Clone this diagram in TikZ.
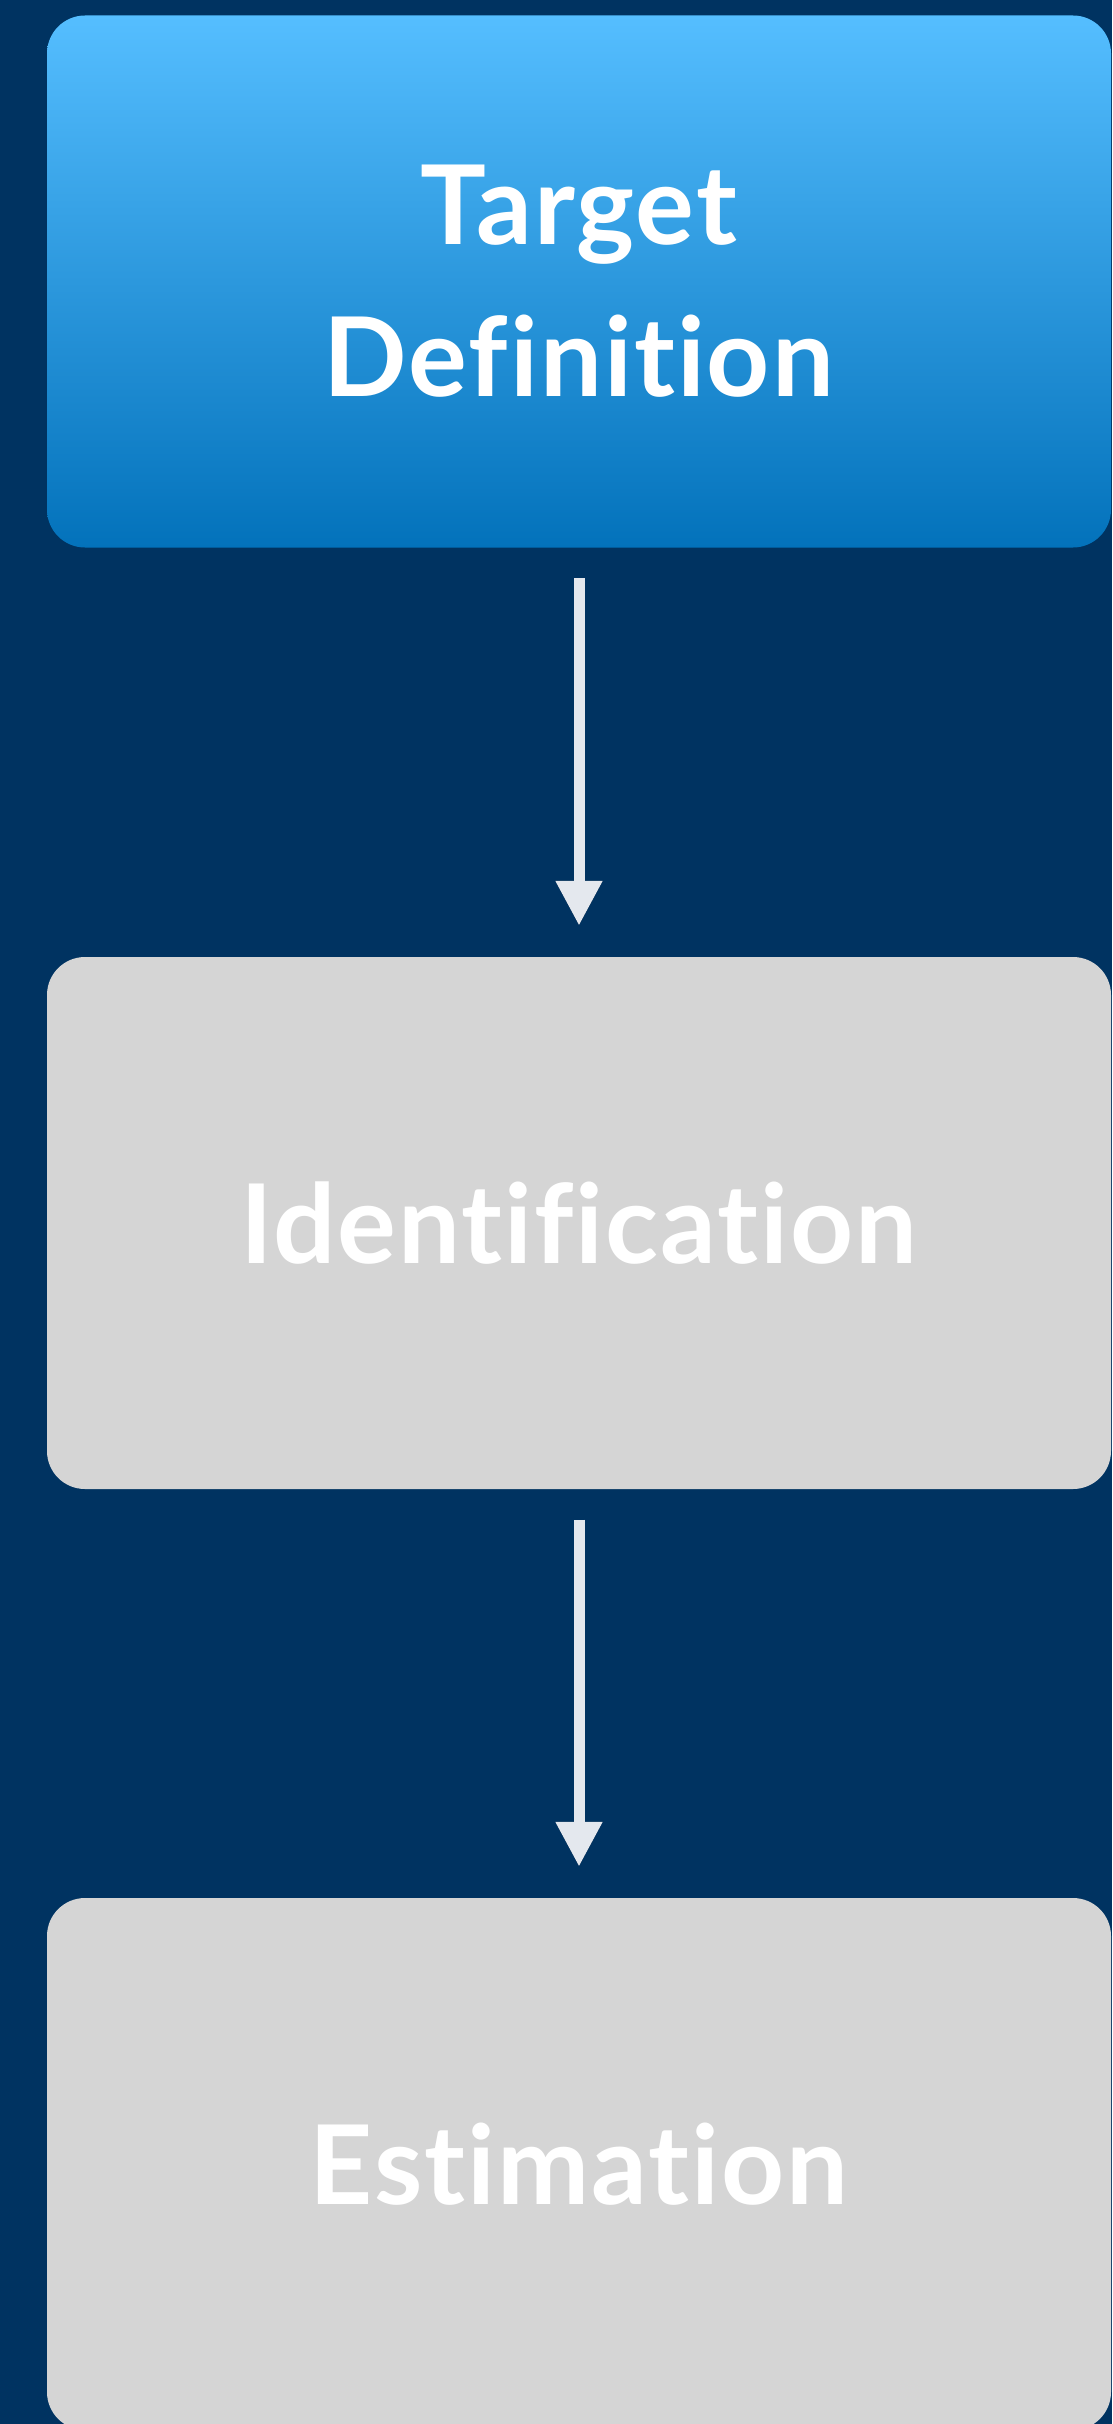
\documentclass[tikz,border=0pt]{standalone}
\usepackage{fontspec}
\setmainfont{Lato}[UprightFont=* Bold, Ligatures=NoCommon, LetterSpace=1.8]
\usetikzlibrary{arrows.meta}
\definecolor{bgnavy}{RGB}{0,51,97}
\definecolor{bluetop}{RGB}{85,190,255}
\definecolor{bluebot}{RGB}{3,114,187}
\definecolor{panelgrey}{RGB}{213,213,213}
\definecolor{arrowgrey}{RGB}{228,232,238}
\tikzset{
  panel/.style={rounded corners=38pt, minimum width=1064pt, minimum height=532pt,
    inner sep=0pt, text=white, align=center,
    font=\fontsize{110}{152}\selectfont},
  activepanel/.style={panel, top color=bluetop, bottom color=bluebot, draw=none},
  greypanel/.style={panel, fill=panelgrey},
  flowarrow/.style={line width=11pt, draw=arrowgrey,
    -{Triangle[width=44pt,length=45pt]}, shorten <=30.5pt, shorten >=31pt},
  flowshadow/.style={line width=11pt, draw=black, opacity=0.10,
    -{Triangle[width=44pt,length=45pt]}, shorten <=30.5pt, shorten >=31pt}
}
\begin{document}
\begin{tikzpicture}[x=1pt,y=-1pt]
  \fill[bgnavy] (0,0) rectangle (1112,2424);
  \useasboundingbox (0,0) rectangle (1112,2424);
  \begin{scope}
    \clip (0,0) rectangle (1112,2424);
    \node[activepanel] (target) at (579,281.5) {Target\\Definition};
    \node[greypanel] (ident) at (579,1223) {Identification};
    \node[greypanel] (estim) at (579,2164) {Estimation};
    % soft shadows under the connectors
    \foreach \d in {2,4,6,8} {
      \begin{scope}[shift={(\d,\d*0.8)}]
        \draw[flowshadow] (target.south) -- (ident.north);
        \draw[flowshadow] (ident.south) -- (estim.north);
      \end{scope}
    }
    \draw[flowarrow] (target.south) -- (ident.north);
    \draw[flowarrow] (ident.south) -- (estim.north);
  \end{scope}
\end{tikzpicture}
\end{document}
